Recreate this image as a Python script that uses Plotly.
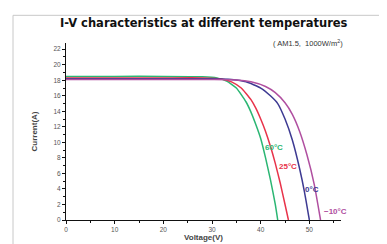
import plotly.graph_objects as go

# I-V curves
v_60 = [0, 10, 20, 28, 31, 33, 35, 37, 38, 39, 40, 41, 42, 43, 43.5]
i_60 = [18.5, 18.5, 18.5, 18.45, 18.3, 17.9, 17.0, 15.2, 13.9, 12.3, 10.5, 8.0, 5.2, 2.0, 0]

v_25 = [0, 10, 20, 28, 32, 34, 36, 38, 39, 40, 41, 42, 43, 44, 45, 45.7]
i_25 = [18.3, 18.3, 18.3, 18.3, 18.15, 17.8, 17.0, 15.5, 14.4, 13.0, 11.4, 9.5, 7.3, 4.8, 2.0, 0]

v_0 = [0, 10, 20, 30, 34, 37, 40, 42, 43.5, 45, 46.5, 48, 49, 50]
i_0 = [18.2, 18.2, 18.2, 18.2, 18.1, 17.8, 17.0, 16.0, 15.0, 13.0, 10.3, 6.6, 3.6, 0]

v_m10 = [0, 10, 20, 30, 35, 38, 41, 43, 45, 46.5, 48, 49.5, 51, 52.3]
i_m10 = [18.1, 18.1, 18.1, 18.1, 18.05, 17.8, 17.2, 16.4, 15.1, 13.6, 11.4, 8.4, 4.6, 0]

series_names = ["60°C", "25°C", "0°C", "−10°C"]
series_colors = ["#2bb673", "#e8334a", "#3d3a92", "#b04fa0"]
label_v = [42.8, 45.7, 50.5, 55.3]
label_i = [9.3, 6.9, 3.9, 1.1]

x_ticks = [0, 10, 20, 30, 40, 50]
y_ticks = list(range(0, 23, 2))

fig = go.Figure()
for vv, ii, name, col in zip([v_60, v_25, v_0, v_m10], [i_60, i_25, i_0, i_m10],
                             series_names, series_colors):
    fig.add_trace(go.Scatter(x=vv, y=ii, mode="lines", name=name,
                             line=dict(color=col, width=1.5, shape="spline", smoothing=0.5)))

for name, col, lv, li in zip(series_names, series_colors, label_v, label_i):
    fig.add_annotation(x=lv, y=li, text="<b>" + name + "</b>", showarrow=False,
                       font=dict(size=8, color=col, family="Liberation Sans"),
                       xanchor="center", yanchor="middle")

fig.add_annotation(xref="paper", yref="paper", x=0.5, y=1.06, xanchor="center", yanchor="bottom",
                   text="<b>I-V characteristics at different temperatures</b>", showarrow=False,
                   font=dict(size=11.5, color="#111", family="DejaVu Sans"))
fig.add_annotation(xref="paper", yref="paper", x=1.015, y=1.0, xanchor="right", yanchor="middle",
                   text="( AM1.5,  1000W/m<sup>2</sup>)", showarrow=False,
                   font=dict(size=7.5, color="#333", family="Liberation Sans"))

# outer frame
fig.add_shape(type="rect", xref="paper", yref="paper", x0=-0.1927, x1=1.1855, y0=-0.1508, y1=1.1564,
              line=dict(color="#c8c8c8", width=1))

axis_font = dict(size=6.5, color="#555", family="Liberation Sans")
fig.update_xaxes(range=[0, 56.5], tickvals=x_ticks, ticks="outside", ticklen=3, tickwidth=1,
                 showline=True, linecolor="#111", linewidth=1, showgrid=False, zeroline=False,
                 tickfont=axis_font, tickcolor="#111",
                 minor=dict(dtick=5, tick0=0, ticks="outside", ticklen=2, tickcolor="#111", showgrid=False),
                 title=dict(text="<b>Voltage(V)</b>", font=dict(size=8, color="#444", family="Liberation Sans"), standoff=2))
fig.update_yaxes(range=[0, 22.8], tickvals=y_ticks, ticks="outside", ticklen=3, tickwidth=1,
                 showline=True, linecolor="#111", linewidth=1, showgrid=False, zeroline=False,
                 tickfont=axis_font, tickcolor="#111",
                 minor=dict(dtick=1, tick0=0, ticks="outside", ticklen=2, tickcolor="#111", showgrid=False),
                 title=dict(text="<b>Current(A)</b>", font=dict(size=8, color="#444", family="Liberation Sans"), standoff=14))

fig.update_layout(width=387, height=244, margin=dict(l=58, r=54, t=35, b=30),
                  paper_bgcolor="white", plot_bgcolor="white", showlegend=False)

fig.write_html("out.html")
